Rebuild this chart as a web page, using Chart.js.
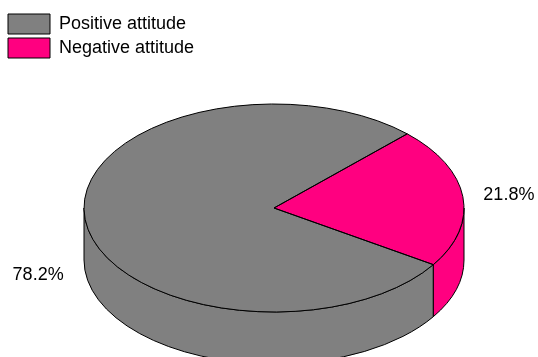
<!DOCTYPE html>
<html>
<head>
<meta charset="utf-8">
<style>
  html, body { margin: 0; padding: 0; background: #fff; overflow: hidden; }
  canvas { display: block; }
</style>
<script src="https://cdn.jsdelivr.net/npm/chart.js@4/dist/chart.umd.min.js"></script>
</head>
<body>
<canvas id="attitudeChart" width="538" height="357"></canvas>
<script>
const categories = ["Positive attitude", "Negative attitude"];
const shares = [78.2, 21.8];
const sliceColors = ["#808080", "#ff0080"];

// disc geometry on the page
const discX = 274;
const discY = 208;
const discRx = 190;
const discRy = 104;
const discDepth = 52;

function squash(ctx, arc) {
  ctx.translate(discX, discY);
  ctx.scale(1, discRy / discRx);
  ctx.translate(-arc.x, -arc.y);
}

// side wall of the cylinder, only the part that faces the viewer
function drawWalls(chart) {
  const ctx = chart.ctx;
  chart.getDatasetMeta(0).data.forEach((arc, i) => {
    const turn = Math.PI * 2;
    for (let k = -1; k <= 1; k++) {
      const from = Math.max(arc.startAngle, k * turn);
      const to = Math.min(arc.endAngle, k * turn + Math.PI);
      if (to <= from) continue;
      ctx.beginPath();
      ctx.ellipse(discX, discY, discRx, discRy, 0, from, to);
      ctx.ellipse(discX, discY + discDepth, discRx, discRy, 0, to, from, true);
      ctx.closePath();
      ctx.fillStyle = sliceColors[i];
      ctx.fill();
      ctx.lineWidth = 1;
      ctx.strokeStyle = "#000";
      ctx.stroke();
    }
  });
}

// outlines of the top face, stroked without the squash so the line stays even
function drawOutlines(chart) {
  const ctx = chart.ctx;
  chart.getDatasetMeta(0).data.forEach((arc) => {
    ctx.beginPath();
    ctx.moveTo(discX, discY);
    ctx.ellipse(discX, discY, discRx, discRy, 0, arc.startAngle, arc.endAngle);
    ctx.closePath();
    ctx.lineWidth = 1;
    ctx.strokeStyle = "#000";
    ctx.stroke();
  });
}

function drawPercents(chart) {
  const ctx = chart.ctx;
  ctx.font = "18px 'Liberation Sans'";
  ctx.fillStyle = "#000";
  ctx.textAlign = "center";
  ctx.textBaseline = "middle";
  chart.getDatasetMeta(0).data.forEach((arc, i) => {
    const mid = (arc.startAngle + arc.endAngle) / 2;
    const cos = Math.cos(mid);
    const sin = Math.sin(mid);
    const x = discX + discRx * cos + (cos > 0 ? 46 : -47);
    const y = discY + discRy * sin + (sin > 0 ? discDepth : 0) + (sin > 0 ? 4 : -2);
    ctx.fillText(shares[i].toFixed(1) + "%", x, y);
  });
}

const piePerspective = {
  id: "piePerspective",
  beforeDatasetsDraw(chart) {
    drawWalls(chart);
  },
  beforeDatasetDraw(chart, args) {
    chart.ctx.save();
    squash(chart.ctx, args.meta.data[0]);
  },
  afterDatasetDraw(chart) {
    chart.ctx.restore();
  },
  afterDatasetsDraw(chart) {
    drawOutlines(chart);
    drawPercents(chart);
  },
};

Chart.defaults.font.family = "'Liberation Sans'";
Chart.defaults.font.size = 18;
Chart.defaults.color = "#000";

new Chart(document.getElementById("attitudeChart"), {
  type: "pie",
  data: {
    labels: categories,
    datasets: [
      {
        data: shares,
        backgroundColor: sliceColors,
        borderWidth: 0,
        radius: discRx,
        clip: false,
      },
    ],
  },
  options: {
    responsive: false,
    animation: false,
    rotation: 123,
    layout: { padding: { left: 4, top: 10 } },
    plugins: {
      tooltip: { enabled: false },
      legend: {
        position: "left",
        align: "start",
        labels: {
          boxWidth: 42,
          boxHeight: 20,
          padding: 4,
          generateLabels(chart) {
            return Chart.overrides.doughnut.plugins.legend.labels
              .generateLabels(chart)
              .map((item) => ({ ...item, lineWidth: 1, strokeStyle: "#000" }));
          },
        },
      },
    },
  },
  plugins: [piePerspective],
});
</script>
</body>
</html>
